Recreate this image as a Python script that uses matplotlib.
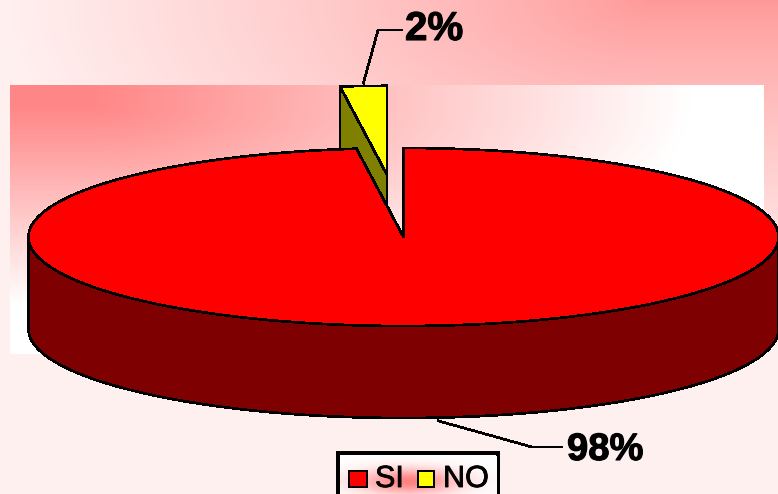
import numpy as np
import matplotlib
matplotlib.use("Agg")
import matplotlib.pyplot as plt
import matplotlib.patheffects as pe
from matplotlib.patches import Polygon, Rectangle

plt.rcParams['font.family'] = ['Liberation Sans', 'DejaVu Sans']

# data
categories = ["SI", "NO"]
values = [98, 2]
labels = ["98%", "2%"]
top_colors = ["#ff0000", "#ffff00"]
side_colors = ["#7f0000", "#808000"]

W, H = 778, 494
# pie geometry in pixels
cx, cy, rx, ry, depth = 403.5, 237, 375, 89, 92
explode = [0, 0.7]
heavy = [pe.withStroke(linewidth=0.8, foreground='black')]


def lerp_bg(t, c0, c1):
    t = np.clip(t, 0, 1)[..., None]
    return np.array(c0) * (1 - t) + np.array(c1) * t


def pt(a, r=1.0):
    # a is degrees clockwise from 12 o'clock
    a = np.radians(a)
    return r * rx * np.sin(a), -r * ry * np.cos(a)


def arc(a0, a1, n=240):
    x, y = pt(np.linspace(a0, a1, n))
    return x, y


fig = plt.figure(figsize=(W / 100, H / 100), dpi=100)
ax = fig.add_axes([0, 0, 1, 1])

# backgrounds
yy, xx = np.mgrid[0:H, 0:W]
r1 = np.hypot(np.clip(650 - xx, 0, None) / 650, yy / 300) ** 0.8
bg = lerp_bg(r1, (255, 152, 152), (255, 240, 240))
ax.imshow(bg / 255, extent=(0, W, H, 0), zorder=0, interpolation='nearest')

py, px = np.mgrid[85:354, 10:764]
r2 = np.hypot(np.clip(px - 90, 0, None) / 600, np.clip(py - 105, 0, None) / 200)
plot_bg = lerp_bg(r2, (255, 134, 134), (255, 255, 255))
ax.imshow(plot_bg / 255, extent=(10, 764, 354, 85), zorder=1, interpolation='nearest')

ax.set_xlim(0, W)
ax.set_ylim(H, 0)
ax.axis('off')

# slice angles from the values, clockwise from 12 o'clock
fracs = np.array(values) / sum(values) * 360
starts = np.concatenate(([0], np.cumsum(fracs)[:-1]))
ends = starts + fracs
anchors = []

for i in [1, 0]:
    a0, a1 = starts[i], ends[i]
    mid = (a0 + a1) / 2
    ex, ey = pt(mid, explode[i])
    ox, oy = cx + ex, cy + ey
    ax_, ay_ = arc(a0, a1)
    top = np.column_stack([np.r_[ox, ox + ax_], np.r_[oy, oy + ay_]])

    if i == 1:
        # cut face of the pulled out slice, the rest goes under the big slice
        fx, fy = pt(a0)
        face = [(ox, oy), (ox + fx, oy + fy), (ox + fx, oy + fy + depth), (ox, oy + depth)]
        ax.add_patch(Polygon(face, closed=True, fc=side_colors[i], ec='black', lw=1.2,
                             antialiased=False, zorder=3))
    else:
        # front wall, only the part of the rim facing us
        wx, wy = arc(90, 270)
        wall = np.column_stack([np.r_[ox + wx, (ox + wx)[::-1]],
                                np.r_[oy + wy, (oy + wy + depth)[::-1]]])
        ax.add_patch(Polygon(wall, closed=True, fc=side_colors[i], ec='black', lw=1.2,
                             antialiased=False, zorder=4))

    ax.add_patch(Polygon(top, closed=True, fc=top_colors[i], ec='black', lw=1.2,
                         antialiased=False, zorder=3 if i == 1 else 5))

    mx, my = pt(mid)
    if i == 0:
        anchors.append((ox + mx + 11, oy + my + depth + 3))
    else:
        anchors.append((ox + mx, oy + my - 3))

# leader lines and percent labels, anchors[0] is NO, anchors[1] is SI
lx, ly = anchors[0]
ax.plot([lx, 378, 402], [ly, 30, 30], color='black', lw=1.2, antialiased=False, zorder=6)
ax.text(405, 40, labels[1], fontsize=29, fontweight='bold', ha='left', va='baseline',
        path_effects=heavy, zorder=6)
lx, ly = anchors[1]
ax.plot([lx, 532, 562], [ly, 447, 447], color='black', lw=1.2, antialiased=False, zorder=6)
ax.text(567, 460, labels[0], fontsize=27.5, fontweight='bold', ha='left', va='baseline',
        path_effects=heavy, zorder=6)

# legend box, runs off the bottom of the image
ax.add_patch(Rectangle((338, 453), 160, 60, fc='white', ec='black', lw=1.5, antialiased=False,
                       zorder=7, clip_on=True))
gy, gx = np.mgrid[456:494, 340:497]
glow = np.exp(-(((gx - 408) / 50) ** 2 + ((gy - 481) / 13) ** 2))
glow_img = lerp_bg(glow, (255, 255, 255), (255, 130, 130))
ax.imshow(glow_img / 255, extent=(340, 497, 494, 456), zorder=7.5, interpolation='bilinear')
ax.set_xlim(0, W)
ax.set_ylim(H, 0)

sw_x = [349, 418]
sw_w = [18, 16]
txt_x = [375, 443]
for i, name in enumerate(categories):
    ax.add_patch(Rectangle((sw_x[i], 471), sw_w[i], 16, fc=top_colors[i], ec='black', lw=1.2,
                           antialiased=False, zorder=8))
    ax.text(txt_x[i], 487, name, fontsize=22, ha='left', va='baseline',
            path_effects=[pe.withStroke(linewidth=0.6, foreground='black')], zorder=8)

fig.savefig('out.png', dpi=100)
